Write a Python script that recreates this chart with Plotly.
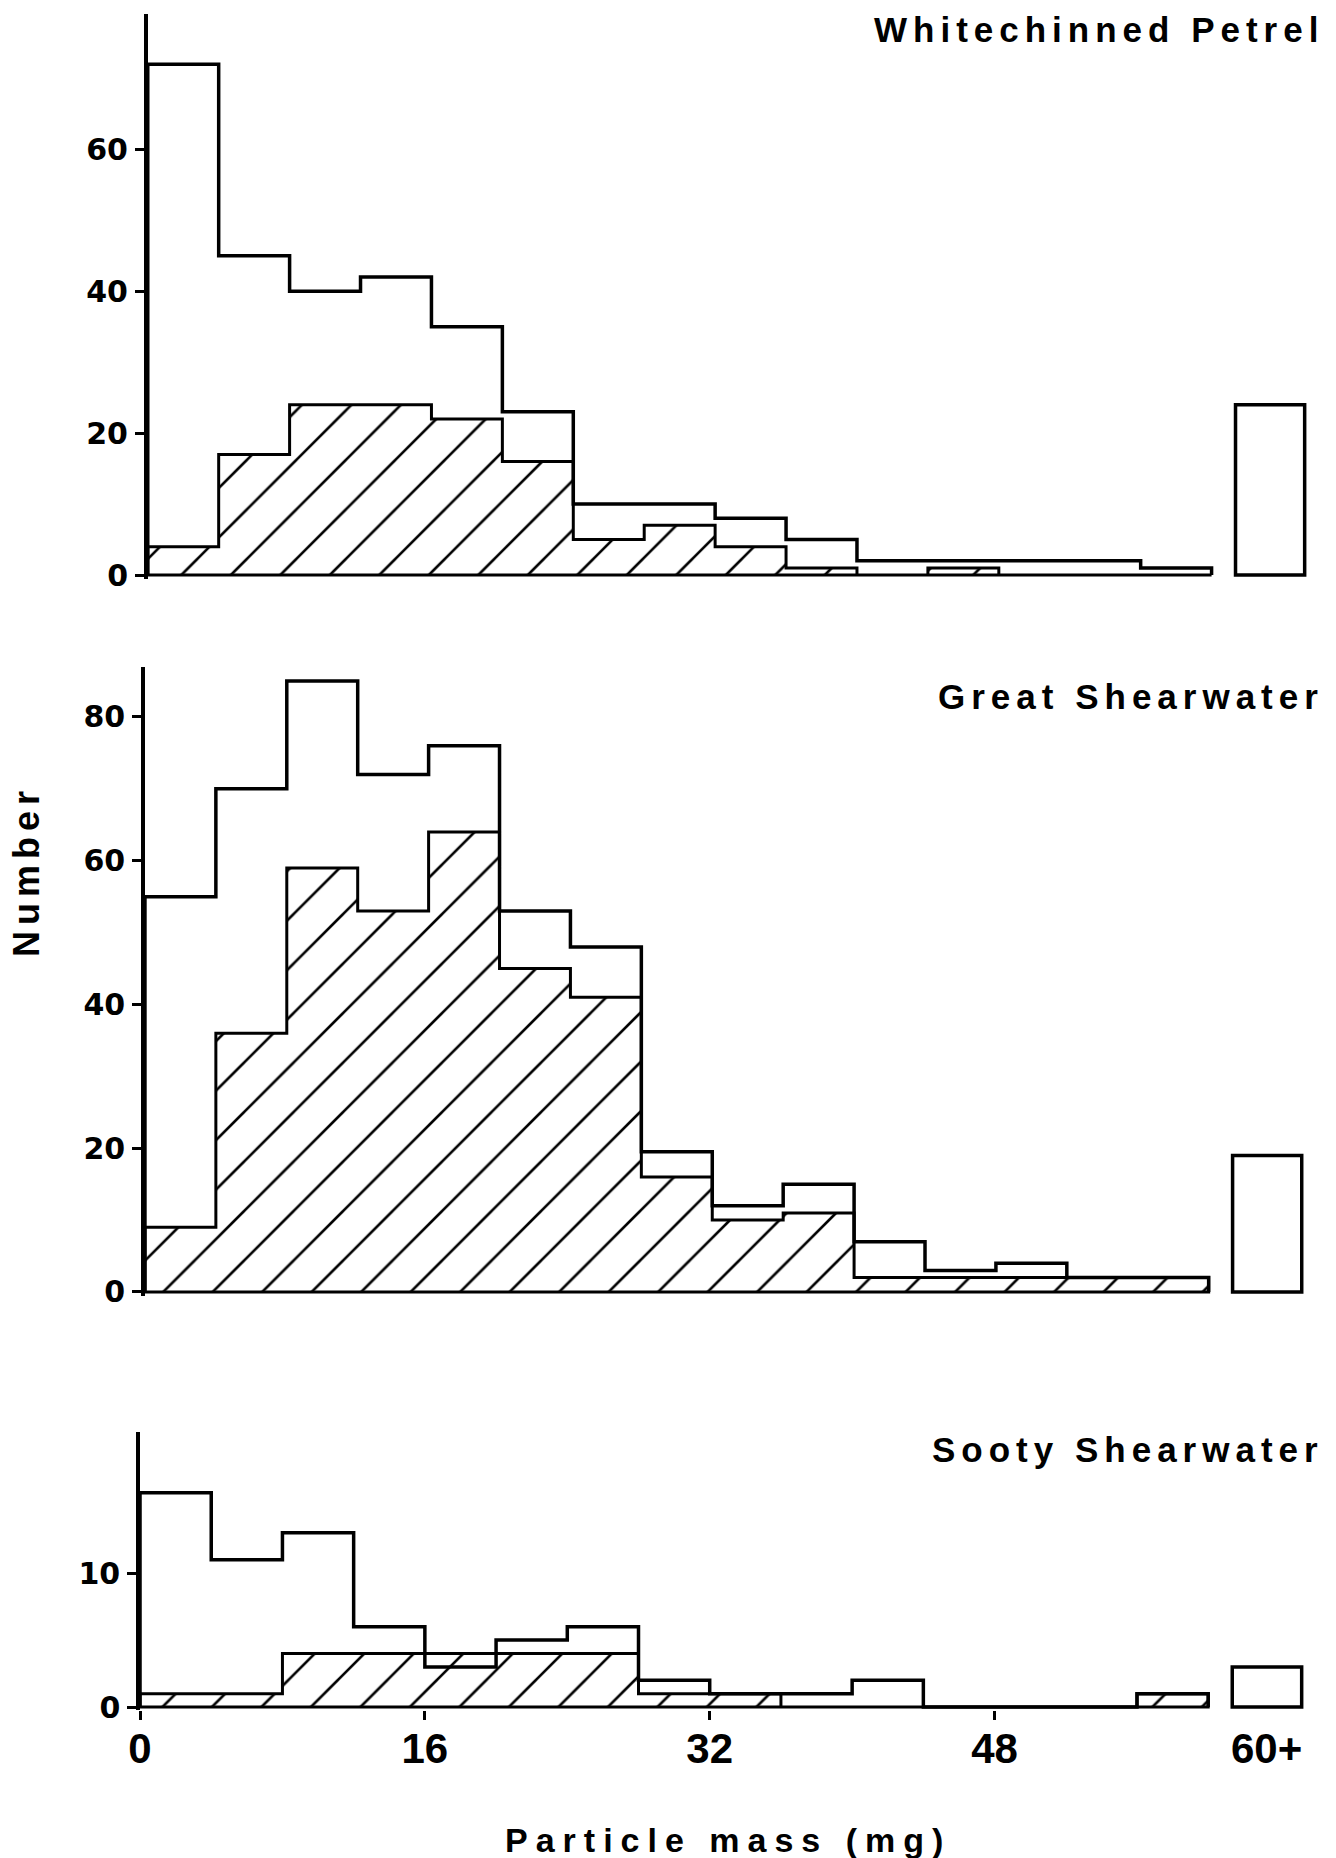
import plotly.graph_objects as go

# ---------------- data ----------------
bin_edges = [0, 4, 8, 12, 16, 20, 24, 28, 32, 36, 40, 44, 48, 52, 56, 60]

species = ["Whitechinned Petrel", "Great Shearwater", "Sooty Shearwater"]

petrel_total   = [72, 45, 40, 42, 35, 23, 10, 10, 8, 5, 2, 2, 2, 2, 1]
petrel_hatched = [4, 17, 24, 24, 22, 16, 5, 7, 4, 1, 0, 1, 0, 0, 0]
petrel_over60  = 24

great_total    = [55, 70, 85, 72, 76, 53, 48, 19.5, 12, 15, 7, 3, 4, 2, 2]
great_hatched  = [9, 36, 59, 53, 64, 45, 41, 16, 10, 11, 2, 2, 2, 2, 2]
great_over60   = 19

sooty_total    = [16, 11, 13, 6, 3, 5, 6, 2, 1, 1, 2, 0, 0, 0, 1]
sooty_hatched  = [1, 1, 4, 4, 4, 4, 4, 1, 1, 0, 0, 0, 0, 0, 1]
sooty_over60   = 3

petrel_yticks = [0, 20, 40, 60]
great_yticks  = [0, 20, 40, 60, 80]
sooty_yticks  = [0, 10]

x_tick_vals   = [0, 16, 32, 48]
x_tick_labels = ["0", "16", "32", "48"]
over_label    = "60+"
y_title       = "Number"
x_title       = "Particle mass (mg)"

# ---------------- layout constants ----------------
OVER_X = 63.3
OVER_W = 3.9
X_RANGE = [0, 66]

panels = [
    dict(name=species[0], total=petrel_total, hatched=petrel_hatched, over=petrel_over60,
         yticks=petrel_yticks, yrange=[-0.5, 79], xdom=[0.1106, 0.9865], ydom=[0.6886, 0.9922],
         title_y=0.9839, sfx=""),
    dict(name=species[1], total=great_total, hatched=great_hatched, over=great_over60,
         yticks=great_yticks, yrange=[-0.5, 87], xdom=[0.1085, 0.9843], ydom=[0.3027, 0.6412],
         title_y=0.6249, sfx="2"),
    dict(name=species[2], total=sooty_total, hatched=sooty_hatched, over=sooty_over60,
         yticks=sooty_yticks, yrange=[-0.25, 20.5], xdom=[0.1048, 0.9843], ydom=[0.0794, 0.2291],
         title_y=0.2201, sfx="3"),
]

YTICK_FONT = dict(family="DejaVu Sans, sans-serif", size=30, color="black", weight="bold")
XTICK_FONT = dict(family="Liberation Sans, Arial, sans-serif", size=42, color="black", weight="bold")
LABEL_FAMILY = "Liberation Sans, Arial, sans-serif"


def spaced(t, px):
    return f'<span style="letter-spacing:{px}px">{t}</span>'


fig = go.Figure()
layout = dict(width=1336, height=1858, margin=dict(l=0, r=0, t=0, b=0, autoexpand=False),
              paper_bgcolor="white", plot_bgcolor="white", showlegend=False,
              annotations=[])

for p in panels:
    xa = "x" + p["sfx"]
    ya = "y" + p["sfx"]
    n = len(p["total"])
    left_edges = bin_edges[:n]
    right_end = bin_edges[n]

    # hatched (subset) histogram, closed step polygon
    hx = [bin_edges[0]] + left_edges + [right_end, right_end, bin_edges[0]]
    hy = [0] + p["hatched"] + [p["hatched"][-1], 0, 0]
    fig.add_trace(go.Scatter(
        x=hx, y=hy, mode="lines", xaxis=xa, yaxis=ya,
        line=dict(shape="hv", color="black", width=3),
        fill="toself", fillcolor="white",
        fillpattern=dict(shape="/", fgcolor="black", bgcolor="white",
                         size=35, solidity=0.075, fillmode="replace"),
        hoverinfo="skip"))

    # total histogram outline
    ox = [bin_edges[0]] + left_edges + [right_end, right_end]
    oy = [0] + p["total"] + [p["total"][-1], 0]
    fig.add_trace(go.Scatter(
        x=ox, y=oy, mode="lines", xaxis=xa, yaxis=ya,
        line=dict(shape="hv", color="black", width=3.5),
        hoverinfo="skip"))

    # 60+ box
    fig.add_trace(go.Bar(
        x=[OVER_X], y=[p["over"]], width=OVER_W, xaxis=xa, yaxis=ya,
        marker=dict(color="white", line=dict(color="black", width=3.5)),
        hoverinfo="skip"))

    xkey = "xaxis" + p["sfx"]
    ykey = "yaxis" + p["sfx"]
    is_bottom = p["sfx"] == "3"
    layout[xkey] = dict(domain=p["xdom"], range=X_RANGE, anchor=ya, automargin=False,
                        showgrid=False, zeroline=False, showline=False,
                        showticklabels=is_bottom,
                        ticks="outside" if is_bottom else "",
                        tickvals=x_tick_vals if is_bottom else None,
                        ticktext=x_tick_labels if is_bottom else None,
                        ticklen=9, tickwidth=2.5, tickcolor="black",
                        tickfont=XTICK_FONT, ticklabelstandoff=-8)
    layout[ykey] = dict(domain=p["ydom"], range=p["yrange"], anchor=xa, automargin=False,
                        showgrid=False, zeroline=False, showline=True,
                        linecolor="black", linewidth=3.5,
                        ticks="outside", ticklen=9, tickwidth=2.5, tickcolor="black",
                        tickvals=p["yticks"],
                        ticktext=[str(v) for v in p["yticks"]],
                        tickfont=YTICK_FONT, ticklabelstandoff=1)

    layout["annotations"].append(dict(
        text=spaced(p["name"], 6), xref="paper", yref="paper",
        x=0.9925, y=p["title_y"], xanchor="right", yanchor="middle",
        showarrow=False,
        font=dict(family=LABEL_FAMILY, size=35, color="black", weight="bold")))

# 60+ label under the bottom box
layout["annotations"].append(dict(
    text=over_label, xref="x3", yref="paper", x=OVER_X, y=0.0592,
    xanchor="center", yanchor="middle", showarrow=False,
    font=XTICK_FONT))

# axis titles
layout["annotations"].append(dict(
    text=spaced(y_title, 6), xref="paper", yref="paper", x=0.0195, y=0.5312,
    xanchor="center", yanchor="middle", textangle=-90, showarrow=False,
    font=dict(family=LABEL_FAMILY, size=36, color="black", weight="bold")))
layout["annotations"].append(dict(
    text=spaced(x_title, 8), xref="paper", yref="paper", x=0.545, y=0.0097,
    xanchor="center", yanchor="middle", showarrow=False,
    font=dict(family=LABEL_FAMILY, size=34, color="black", weight="bold")))

fig.update_layout(**layout)
fig.write_html("out.html")
